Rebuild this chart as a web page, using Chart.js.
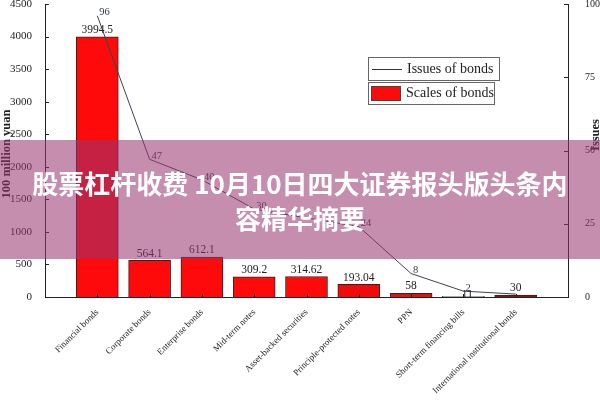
<!DOCTYPE html>
<html>
<head>
<meta charset="utf-8">
<script src="https://cdn.jsdelivr.net/npm/chart.js@4.4.1/dist/chart.umd.min.js"></script>
<style>
  html, body { margin: 0; padding: 0; background: #fff; }
  #wrap { position: relative; width: 600px; height: 400px; overflow: hidden; }
  #c { position: absolute; left: 0; top: -11px; }
  #band {
    position: absolute; left: 0; top: 140px; width: 600px; height: 119px;
    background: rgba(151, 54, 113, 0.56);
    display: flex; align-items: center; justify-content: center;
    box-sizing: border-box; padding: 0 30px;
    color: #fff; font-family: "Noto Sans CJK SC", "Noto Sans", sans-serif;
    font-weight: bold; font-size: 26px; line-height: 35px; text-align: center;
  }
</style>
</head>
<body>
<div id="wrap">
  <canvas id="c" width="600" height="411"></canvas>
  <div id="band"><div>股票杠杆收费 10月10日四大证券报头版头条内容精华摘要</div></div>
</div>
<script>
const categories = ['Financial bonds', 'Corporate bonds', 'Enterprise bonds', 'Mid-term notes',
  'Asset-backed securities', 'Principle-protected notes', 'PPN',
  'Short-term financing bills', 'International institutional bonds'];
const scaleValues = [3994.5, 564.1, 612.1, 309.2, 314.62, 193.04, 58, 11, 30];
const scaleLabels = ['3994.5', '564.1', '612.1', '309.2', '314.62', '193.04', '58', '11', '30'];
const issueValues = [96, 47, 40, 30, 27, 24, 8, 2, 1];
const issueLabels = ['96', '47', '40', '30', '', '24', '8', '2', ''];
const barColors = ['#ff0a0a', '#ff0a0a', '#ff0a0a', '#ff0a0a', '#ff0a0a', '#f00a0a', '#e01212', '#d0d6dc', '#8c1418'];
const leftTicks = [0, 500, 1000, 1500, 2000, 2500, 3000, 3500, 4000, 4500];
const rightTicks = [0, 25, 50, 75, 100];

const SERIF = '"Liberation Serif", "Times New Roman", serif';
const OFF = 11; // canvas is shifted up by this many pixels

const extras = {
  id: 'extras',
  afterDatasetsDraw(chart) {
    const ctx = chart.ctx;
    const xs = chart.scales.x, ys = chart.scales.y, y1 = chart.scales.y1;
    ctx.save();
    // inward tick marks
    ctx.strokeStyle = '#222'; ctx.lineWidth = 1;
    ctx.beginPath();
    leftTicks.forEach(v => { const p = Math.round(ys.getPixelForValue(v)) + 0.5; ctx.moveTo(xs.left, p); ctx.lineTo(xs.left + 4, p); });
    rightTicks.forEach(v => { const p = Math.round(y1.getPixelForValue(v)) + 0.5; ctx.moveTo(xs.right - 4, p); ctx.lineTo(xs.right, p); });
    categories.forEach((c, i) => { const p = Math.round(xs.getPixelForValue(i)) + 0.5; ctx.moveTo(p, ys.bottom); ctx.lineTo(p, ys.bottom - 3); });
    ctx.stroke();
    // bar value labels
    ctx.fillStyle = '#222';
    ctx.font = '11.5px ' + SERIF;
    ctx.textAlign = 'center'; ctx.textBaseline = 'bottom';
    scaleValues.forEach((v, i) => {
      const dx = i === 7 ? 4 : 0;
      ctx.fillText(scaleLabels[i], xs.getPixelForValue(i) + dx, ys.getPixelForValue(v) + (i === 7 ? 4 : -1));
    });
    // line value labels
    ctx.fillStyle = '#333a48';
    ctx.font = '10.5px ' + SERIF;
    ctx.textAlign = 'left'; ctx.textBaseline = 'middle';
    issueValues.forEach((v, i) => {
      if (!issueLabels[i]) return;
      ctx.fillText(issueLabels[i], xs.getPixelForValue(i) + 2, y1.getPixelForValue(v) - 3);
    });
    // legend
    const ds = chart.data.datasets;
    ctx.translate(0, OFF);
    ctx.lineWidth = 1; ctx.strokeStyle = '#666';
    ctx.strokeRect(368.5, 57.5, 131, 23);
    ctx.strokeRect(368.5, 82.5, 126, 22);
    ctx.strokeStyle = '#333';
    ctx.beginPath(); ctx.moveTo(372, 69.5); ctx.lineTo(402, 69.5); ctx.stroke();
    ctx.fillStyle = '#ff0a0a';
    ctx.fillRect(371, 86, 30, 15);
    ctx.strokeStyle = '#444';
    ctx.strokeRect(371.5, 86.5, 29, 14);
    ctx.fillStyle = '#222';
    ctx.font = '14px ' + SERIF;
    ctx.textAlign = 'left'; ctx.textBaseline = 'middle';
    ctx.fillText(ds[0].label, 407, 69);
    ctx.fillText(ds[1].label, 406, 93);
    // axis titles (both read bottom to top)
    ctx.font = 'bold 12.5px ' + SERIF;
    ctx.textAlign = 'center'; ctx.textBaseline = 'middle';
    ctx.save(); ctx.translate(7, 154); ctx.rotate(-Math.PI / 2); ctx.fillText('100 million yuan', 0, 0); ctx.restore();
    ctx.save(); ctx.translate(596, 135); ctx.rotate(-Math.PI / 2); ctx.fillText('Issues', 0, 0); ctx.restore();
    ctx.restore();
  }
};

new Chart(document.getElementById('c'), {
  type: 'bar',
  data: {
    datasets: [
      {
        type: 'line', label: 'Issues of bonds', yAxisID: 'y1', order: 0,
        data: issueValues.map((v, i) => ({ x: i, y: v })),
        borderColor: '#3e4350', borderWidth: 1, pointRadius: 0, tension: 0, fill: false
      },
      {
        type: 'bar', label: 'Scales of bonds', yAxisID: 'y', order: 1,
        data: scaleValues.map((v, i) => ({ x: i, y: v })),
        backgroundColor: barColors, borderColor: '#3a2020', borderWidth: 1,
        barThickness: 42
      }
    ]
  },
  options: {
    responsive: false, animation: false,
    layout: { padding: { top: 3, left: 0, right: 0, bottom: 0 } },
    plugins: { legend: { display: false }, tooltip: { enabled: false } },
    scales: {
      x: {
        type: 'linear', min: -1, max: 9, offset: false,
        grid: { display: false },
        border: { display: true, color: '#222', width: 1 },
        ticks: {
          stepSize: 1, autoSkip: false, maxRotation: 45, minRotation: 45, padding: 2,
          color: '#222', font: { family: SERIF, size: 9 },
          callback: v => (categories[v] !== undefined ? categories[v] : '')
        },
        afterFit: s => { s.height = 103; }
      },
      y: {
        position: 'left', min: 0, max: 4500,
        grid: { display: false },
        border: { display: true, color: '#222', width: 1 },
        ticks: { stepSize: 500, padding: 5, color: '#222', font: { family: SERIF, size: 11 }, callback: v => String(v) },
        afterFit: s => { s.width = 45; }
      },
      y1: {
        position: 'right', min: 0, max: 100,
        grid: { display: false },
        border: { display: true, color: '#222', width: 1 },
        ticks: { stepSize: 25, padding: 9, color: '#222', font: { family: SERIF, size: 10 }, callback: v => String(v) },
        afterFit: s => { s.width = 32; }
      }
    }
  },
  plugins: [extras]
});
</script>
</body>
</html>
